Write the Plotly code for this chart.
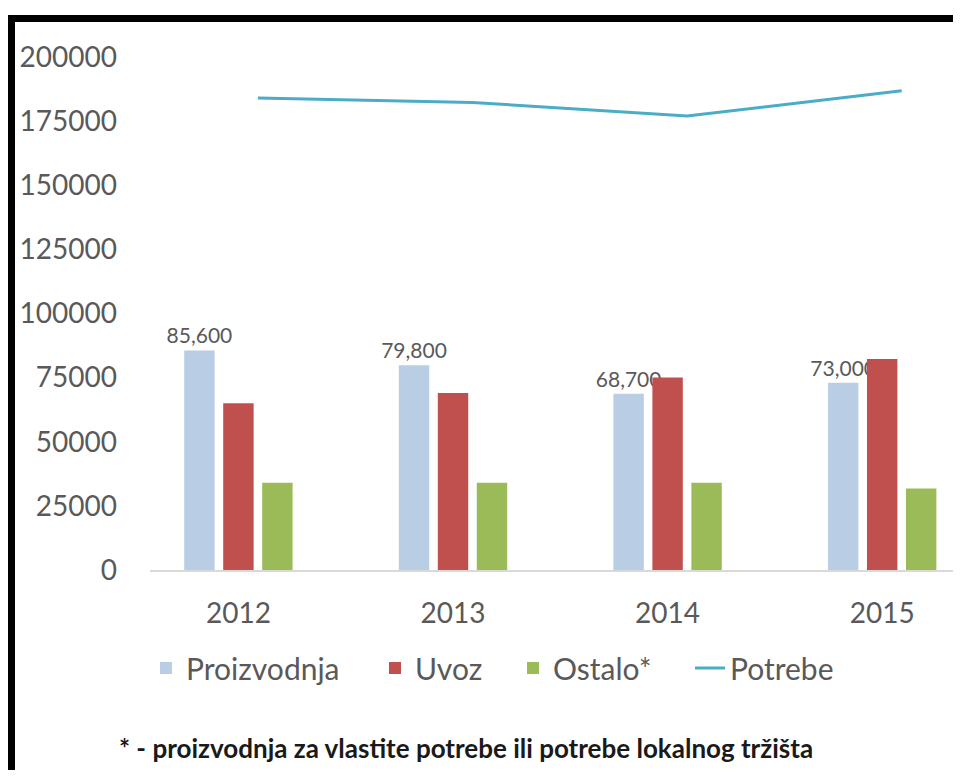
import plotly.graph_objects as go

years = ["2012", "2013", "2014", "2015"]
proizvodnja = [85600, 79800, 68700, 73000]
uvoz = [65000, 69000, 75000, 82300]
ostalo = [34000, 34000, 34000, 31800]
potrebe = [184000, 182300, 177000, 186800]
y_ticks = [0, 25000, 50000, 75000, 100000, 125000, 150000, 175000, 200000]
footnote = "* - proizvodnja za vlastite potrebe ili potrebe lokalnog tržišta"

# page body has an 8px margin; size the figure so it fits inside the window
OFF = 8
FW, FH = 961 - 2 * OFF, 778 - 2 * OFF
FONT = "Lato"
GREY = "#595959"


def px(x):
    return (x - OFF) / FW


def py(y):
    return 1 - (y - OFF) / FH


fig = go.Figure()
fig.add_trace(go.Bar(
    x=years, y=proizvodnja, name="Proizvodnja", marker_color="#B9CDE5",
    texttemplate="%{y:,}", textposition="outside", constraintext="none",
    cliponaxis=False, textfont=dict(family=FONT, size=21, color=GREY),
    legend="legend",
))
fig.add_trace(go.Bar(x=years, y=uvoz, name="Uvoz", marker_color="#C0504D",
                     legend="legend2"))
fig.add_trace(go.Bar(x=years, y=ostalo, name="Ostalo*", marker_color="#9BBB59",
                     legend="legend3"))
fig.add_trace(go.Scatter(
    x=years, y=potrebe, name="Potrebe", mode="lines", xaxis="x2",
    line=dict(color="#4BACC6", width=3), legend="legend4",
))

x_lo, x_hi = -0.412, 3.330
shift = 0.091

legend_font = dict(family=FONT, size=30, color=GREY)


def leg(x_screen):
    return dict(
        orientation="h", x=px(x_screen), xanchor="left", y=py(668),
        yanchor="middle", font=legend_font, bgcolor="rgba(0,0,0,0)",
        itemwidth=30,
    )


fig.update_layout(
    width=FW, height=FH,
    margin=dict(l=0, r=0, t=0, b=0),
    template="none",
    paper_bgcolor="white", plot_bgcolor="white",
    barmode="group", bargap=0.455, bargroupgap=0.22,
    font=dict(family=FONT, color=GREY),
    xaxis=dict(
        domain=[px(150), 1.0], type="category", range=[x_lo, x_hi],
        showgrid=False, zeroline=False, showline=True, linecolor="#D9D9D9",
        linewidth=2, ticks="", tickfont=dict(family=FONT, size=28, color=GREY),
        ticklabelstandoff=17, automargin=False,
    ),
    xaxis2=dict(
        domain=[px(150), 1.0], type="category", overlaying="x",
        range=[x_lo - shift, x_hi - shift], visible=False, automargin=False,
    ),
    yaxis=dict(
        domain=[py(570), py(57)], range=[0, 200000], tickvals=y_ticks,
        ticktext=[str(v) for v in y_ticks], showgrid=False, zeroline=False,
        showline=False, ticks="", tickfont=dict(family=FONT, size=28, color=GREY),
        ticklabelstandoff=32, automargin=False,
    ),
    showlegend=True,
    legend=leg(146),
    legend2=leg(375),
    legend3=leg(513),
    legend4=leg(690),
    shapes=[
        dict(type="rect", xref="paper", yref="paper", x0=0, x1=1.0,
             y0=py(22), y1=py(15), fillcolor="black", line_width=0, layer="above"),
        dict(type="rect", xref="paper", yref="paper", x0=0, x1=px(15),
             y0=0, y1=py(15), fillcolor="black", line_width=0, layer="above"),
    ],
    annotations=[
        dict(text=footnote, xref="paper", yref="paper", x=px(117), y=py(748),
             xanchor="left", yanchor="middle", showarrow=False,
             font=dict(family=FONT, size=26, color="#1a1a1a", weight="bold")),
    ],
)

fig.write_html("out.html")
